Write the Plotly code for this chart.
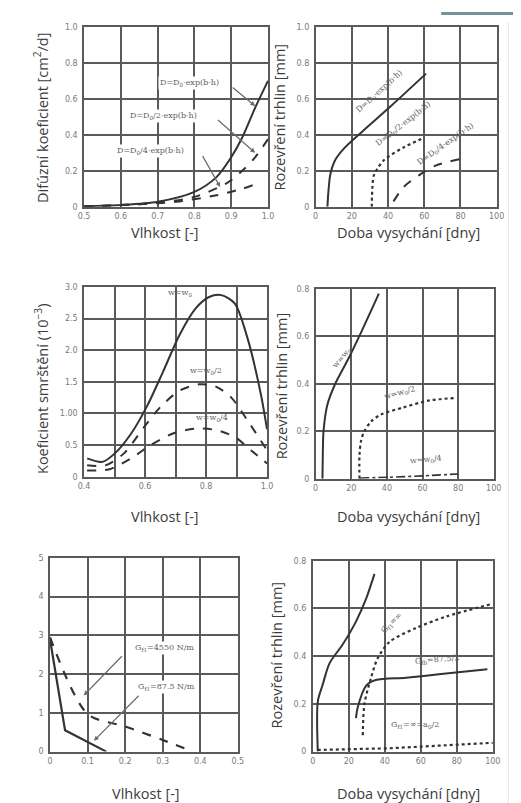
import plotly.graph_objects as go

W, H = 521, 803

# ---------------- data ----------------
# Panel 1: diffusion coefficient vs moisture
p1_x_full = [0.5, 0.6, 0.7, 0.8, 0.86, 0.9, 0.93, 0.965, 1.0]
p1_y_full = [0.003, 0.01, 0.028, 0.083, 0.165, 0.275, 0.385, 0.55, 0.70]
p1_x_half = [0.5, 0.7, 0.8, 0.885, 0.93, 0.965, 1.0]
p1_y_half = [0.002, 0.022, 0.055, 0.128, 0.2, 0.275, 0.376]
p1_x_quarter = [0.5, 0.75, 0.86, 0.93, 0.97]
p1_y_quarter = [0.001, 0.028, 0.064, 0.10, 0.128]

# Panel 2: crack opening vs drying time
p2_x_full = [6.5, 7.0, 8.1, 10.8, 16.2, 27, 41.6, 61]
p2_y_full = [0.0, 0.08, 0.18, 0.26, 0.33, 0.43, 0.56, 0.74]
p2_x_half = [31, 31.3, 32, 34, 37.8, 48.6, 59]
p2_y_half = [0.0, 0.1, 0.17, 0.21, 0.26, 0.33, 0.38]
p2_x_quarter = [43, 48.6, 57.8, 66.5, 82]
p2_y_quarter = [0.03, 0.11, 0.18, 0.23, 0.27]

# Panel 3: shrinkage coefficient vs moisture
p3_x_full = [0.41, 0.46, 0.5, 0.554, 0.607, 0.66, 0.713, 0.766, 0.81, 0.85, 0.894, 0.936, 0.98, 1.0]
p3_y_full = [0.29, 0.235, 0.365, 0.68, 1.12, 1.67, 2.24, 2.66, 2.84, 2.87, 2.74, 2.19, 1.30, 0.75]
p3_x_half = [0.41, 0.47, 0.53, 0.596, 0.65, 0.713, 0.777, 0.83, 0.883, 0.936, 1.0]
p3_y_half = [0.18, 0.18, 0.365, 0.78, 1.10, 1.36, 1.46, 1.43, 1.25, 0.89, 0.42]
p3_x_quarter = [0.41, 0.48, 0.554, 0.618, 0.69, 0.766, 0.83, 0.894, 0.947, 1.0]
p3_y_quarter = [0.10, 0.115, 0.29, 0.50, 0.68, 0.76, 0.74, 0.63, 0.42, 0.21]

# Panel 4: crack opening vs drying time (shrinkage variants)
p4_x_full = [3.8, 4.0, 4.4, 6.5, 11, 18, 25.7, 35.5]
p4_y_full = [0.0, 0.1, 0.2, 0.31, 0.40, 0.50, 0.62, 0.78]
p4_x_half = [24.6, 24.6, 25.5, 27.3, 31, 36.6, 49, 64, 78]
p4_y_half = [0.0, 0.1, 0.16, 0.20, 0.24, 0.27, 0.30, 0.33, 0.34]
p4_x_quarter = [25, 40, 60, 80]
p4_y_quarter = [0.003, 0.006, 0.012, 0.02]

# Panel 5: softening curves
p5_x_high = [0.0, 0.04, 0.15]
p5_y_high = [2.9, 0.55, 0.0]
p5_x_low = [0.0, 0.1, 0.2, 0.3, 0.38]
p5_y_low = [2.95, 0.97, 0.65, 0.3, 0.0]

# Panel 6: crack opening vs drying time (fracture energy variants)
p6_x_a = [2.8, 2.8, 5.5, 9.3, 16.7, 24, 29.6, 34.3]
p6_y_a = [0.0, 0.21, 0.28, 0.37, 0.45, 0.545, 0.64, 0.745]
p6_x_b = [24, 25, 29.6, 35, 51.8, 70, 97]
p6_y_b = [0.14, 0.186, 0.276, 0.30, 0.31, 0.324, 0.345]
p6_x_c = [27.8, 28.7, 32.4, 36, 42.6, 57, 74, 100]
p6_y_c = [0.069, 0.2, 0.31, 0.39, 0.46, 0.517, 0.566, 0.62]
p6_x_d = [2.8, 42.6, 100]
p6_y_d = [0.007, 0.014, 0.037]

# tick labels
p1_xticks = [0.5, 0.6, 0.7, 0.8, 0.9, 1.0]
p1_xtext = ["0.5", "0.6", "0.7", "0.8", "0.9", "1.0"]
p1_yticks = [0, 0.2, 0.4, 0.6, 0.8, 1.0]
p1_ytext = ["0", "0.2", "0.4", "0.6", "0.8", "1.0"]
p3_xticks = [0.4, 0.5, 0.6, 0.7, 0.8, 0.9, 1.0]
p3_xtext = ["0.4", "", "0.6", "", "0.8", "", "1.0"]
p3_yticks = [0, 0.5, 1.0, 1.5, 2.0, 2.5, 3.0]
p3_ytext = ["0", "0.5", "1.00", "1.5", "2.0", "2.5", "3.0"]
t_xticks = [0, 20, 40, 60, 80, 100]
t_xtext = ["0", "20", "40", "60", "80", "100"]
p2_yticks = [0, 0.2, 0.4, 0.6, 0.8, 1.0]
p2_ytext = ["0", "0.2", "0.4", "0.6", "0.8", "1.0"]
p4_yticks = [0, 0.2, 0.4, 0.6, 0.8]
p4_ytext = ["0", "0.2", "0.4", "0.6", "0.8"]
p5_xticks = [0, 0.1, 0.2, 0.3, 0.4, 0.5]
p5_xtext = ["0", "0.1", "0.2", "0.3", "0.4", "0.5"]
p5_yticks = [0, 1, 2, 3, 4, 5]
p5_ytext = ["0", "1", "2", "3", "4", "5"]

# ---------------- layout helpers ----------------
def fx(px):
    return px / W

def fy(py):
    return 1 - py / H

LINE = "#333333"
GRID = "#5a5a5a"
TICK = "#7a7a7a"
TXT = "#3c3c3c"
LBL = "#5e5e5e"

fig = go.Figure()

panels = [
    (1, 72, 261, 15, 197, [0.5, 1.0], [0, 1.0], p1_xticks, p1_xtext, p1_yticks, p1_ytext),
    (2, 310, 496, 15, 197, [0, 100], [0, 1.0], t_xticks, t_xtext, p2_yticks, p2_ytext),
    (3, 72, 260, 278, 470, [0.4, 1.0], [0, 3.0], p3_xticks, p3_xtext, p3_yticks, p3_ytext),
    (4, 310, 493, 280, 472, [0, 100], [0, 0.8], t_xticks, t_xtext, p4_yticks, p4_ytext),
    (5, 37, 230, 552, 748, [0, 0.5], [0, 5], p5_xticks, p5_xtext, p5_yticks, p5_ytext),
    (6, 307, 492, 555, 748, [0, 100], [0, 0.8], t_xticks, t_xtext, p4_yticks, p4_ytext),
]

lay = {}
for (i, x0, x1, y0, y1, xr, yr, xt, xtt, yt, ytt) in panels:
    sx = "" if i == 1 else str(i)
    common = dict(showgrid=True, gridcolor=GRID, gridwidth=1.6, showline=True,
                  linecolor=GRID, linewidth=1.6, mirror=True, zeroline=False,
                  ticks="", tickfont=dict(family="DejaVu Sans", size=8, color=TICK),
                  fixedrange=True)
    xa = dict(common, domain=[fx(x0), fx(x1)], range=xr, anchor="y" + sx,
              tickmode="array", tickvals=xt, ticktext=xtt, ticklabelstandoff=1)
    ya = dict(common, domain=[fy(y1), fy(y0)], range=yr, anchor="x" + sx,
              tickmode="array", tickvals=yt, ticktext=ytt, ticklabelstandoff=3)
    lay["xaxis" + sx] = xa
    lay["yaxis" + sx] = ya


def add(i, x, y, dash="solid", width=2.0, shape="spline"):
    sx = "" if i == 1 else str(i)
    fig.add_trace(go.Scatter(x=x, y=y, mode="lines", xaxis="x" + sx, yaxis="y" + sx,
                             line=dict(color=LINE, width=width, dash=dash, shape=shape,
                                       smoothing=0.8),
                             showlegend=False, hoverinfo="skip"))

add(1, p1_x_full, p1_y_full)
add(1, p1_x_half, p1_y_half, "dash")
add(1, p1_x_quarter, p1_y_quarter, "dash")
add(2, p2_x_full, p2_y_full)
add(2, p2_x_half, p2_y_half, "dot", 2.2)
add(2, p2_x_quarter, p2_y_quarter, "dash")
add(3, p3_x_full, p3_y_full)
add(3, p3_x_half, p3_y_half, "dash")
add(3, p3_x_quarter, p3_y_quarter, "dash")
add(4, p4_x_full, p4_y_full)
add(4, p4_x_half, p4_y_half, "dot", 2.2)
add(4, p4_x_quarter, p4_y_quarter, "dashdot", 1.6)
add(5, p5_x_high, p5_y_high, "solid", 2.2, "linear")
add(5, p5_x_low, p5_y_low, "dash", 2.2)
add(6, p6_x_a, p6_y_a)
add(6, p6_x_b, p6_y_b)
add(6, p6_x_c, p6_y_c, "dot", 2.2)
add(6, p6_x_d, p6_y_d, "dot", 2.2, "linear")

ann = []

def label(i, x, y, text, angle=0, size=8, xanchor="center", bg=None):
    sx = "" if i == 1 else str(i)
    d = dict(x=x, y=y, xref="x" + sx, yref="y" + sx, text=text, showarrow=False,
             textangle=angle, xanchor=xanchor,
             font=dict(family="DejaVu Serif", size=size, color=LBL))
    if bg:
        d["bgcolor"] = bg
    ann.append(d)

def arrow(i, x, y, tx, ty):
    sx = "" if i == 1 else str(i)
    ann.append(dict(x=x, y=y, ax=tx, ay=ty, xref="x" + sx, yref="y" + sx,
                    axref="x" + sx, ayref="y" + sx, text="", showarrow=True,
                    arrowhead=2, arrowsize=0.8, arrowwidth=1.2, arrowcolor="#6a6a6a"))

# panel 1 labels
label(1, 0.787, 0.687, "D=D<sub>0</sub>·exp(b·h)", bg="white")
label(1, 0.715, 0.505, "D=D<sub>0</sub>/2·exp(b·h)", bg="white")
label(1, 0.68, 0.31, "D=D<sub>0</sub>/4·exp(b·h)", bg="white")
arrow(1, 0.965, 0.56, 0.90, 0.67)
arrow(1, 0.965, 0.30, 0.86, 0.49)
arrow(1, 0.87, 0.11, 0.82, 0.29)
# panel 2 labels
label(2, 35, 0.64, "D=D<sub>0</sub>·exp(b·h)", -42)
label(2, 48.6, 0.46, "D=D<sub>0</sub>/2·exp(b·h)", -38)
label(2, 72, 0.35, "D=D<sub>0</sub>/4·exp(b·h)", -35)
# panel 3 labels
label(3, 0.713, 2.90, "w=w<sub>0</sub>")
label(3, 0.80, 1.67, "w=w<sub>0</sub>/2")
label(3, 0.82, 0.93, "w=w<sub>0</sub>/4")
# panel 4 labels
label(4, 14.8, 0.51, "w=w<sub>0</sub>", -50)
label(4, 47.5, 0.36, "w=w<sub>0</sub>/2", -15)
label(4, 62, 0.08, "w=w<sub>0</sub>/4", -5)
# panel 5 labels
label(5, 0.22, 2.68, "G<sub>f1</sub>=4550 N/m", 0, 8, "left", "white")
label(5, 0.228, 1.68, "G<sub>f1</sub>=87.5 N/m", 0, 8, "left", "white")
arrow(5, 0.09, 1.45, 0.195, 2.5)
arrow(5, 0.117, 0.28, 0.24, 1.48)
# panel 6 labels
label(6, 44, 0.54, "G<sub>f1</sub>=∞", -45)
label(6, 69, 0.385, "G<sub>fb</sub>=87.5/2", -5)
label(6, 57, 0.11, "G<sub>f1</sub>=∞=a<sub>0</sub>/2", 0)

# axis titles (paper coordinates)
def title(px, py, text, angle=0):
    ann.append(dict(x=fx(px), y=fy(py), xref="paper", yref="paper", text=text,
                    showarrow=False, textangle=angle, xanchor="center", yanchor="middle",
                    font=dict(family="Open Sans", size=14.5, color=TXT)))

title(28, 107, "Difúzní koeficient [cm<sup>2</sup>/d]", -90)
title(155, 223, "Vlhkost [-]")
title(273, 106, "Rozevření trhlin [mm]", -90)
title(405, 223, "Doba vysychání [dny]")
title(28, 381, "Koeficient smrštění (10<sup>−3</sup>)", -90)
title(155, 510, "Vlhkost [-]")
title(275, 378, "Rozevření trhlin [mm]", -90)
title(405, 510, "Doba vysychání [dny]")
title(136, 790, "Vlhkost [-]")
title(270, 650, "Rozevření trhlin [mm]", -90)
title(405, 790, "Doba vysychání [dny]")

shapes = [
    dict(type="rect", xref="paper", yref="paper", x0=fx(515), x1=1, y0=0, y1=1,
         fillcolor="#74909b", line=dict(width=0), layer="above"),
    dict(type="rect", xref="paper", yref="paper", x0=fx(439), x1=1, y0=fy(3), y1=1,
         fillcolor="#74909b", line=dict(width=0), layer="above"),
    dict(type="line", xref="paper", yref="paper", x0=fx(508), x1=fx(508), y0=0, y1=fy(10),
         line=dict(color="#e4e4e4", width=1)),
]

fig.update_layout(width=W, height=H, margin=dict(l=0, r=0, t=0, b=0),
                  paper_bgcolor="white", plot_bgcolor="white",
                  annotations=ann, shapes=shapes, **lay)

fig.write_html("out.html")
